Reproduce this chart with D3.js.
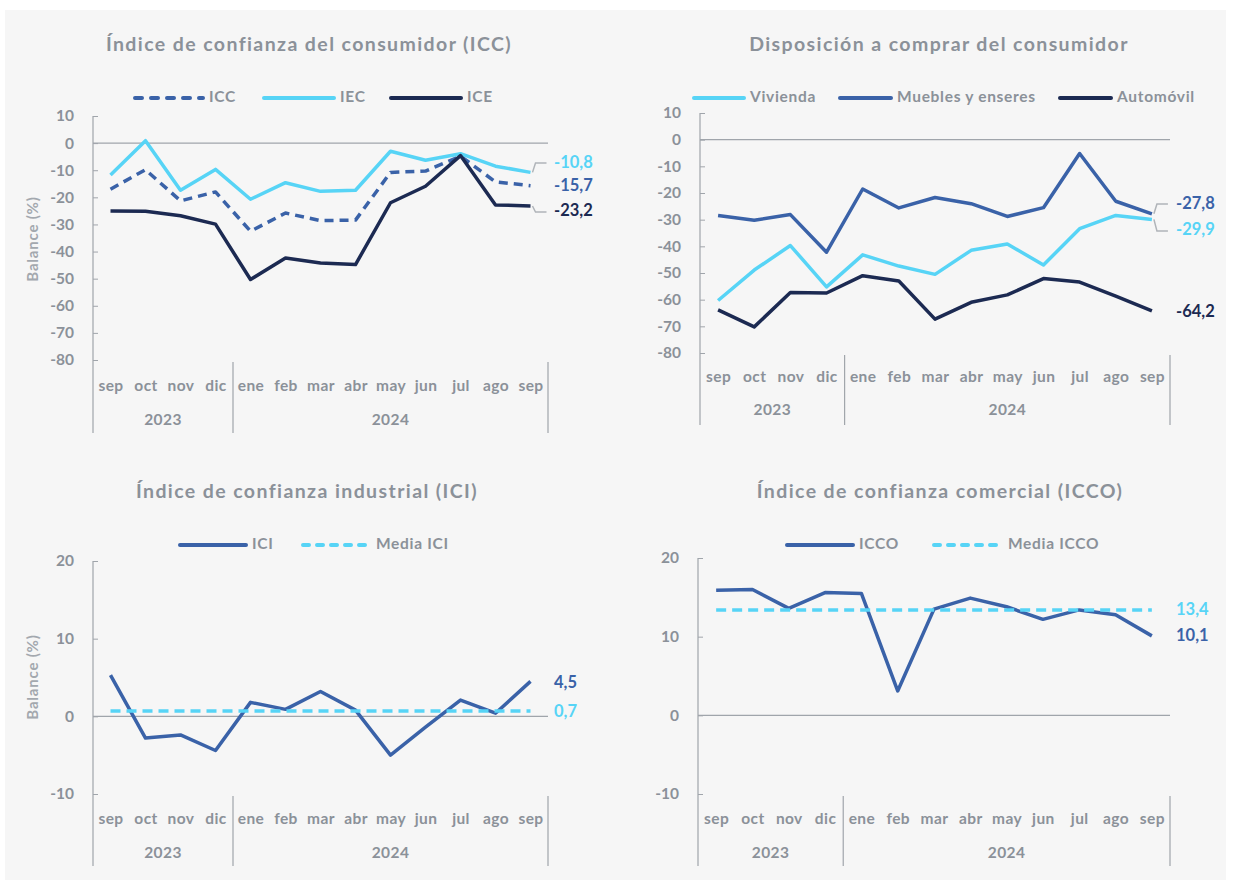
<!DOCTYPE html>
<html>
<head>
<meta charset="utf-8">
<script src="https://cdn.jsdelivr.net/npm/d3@7"></script>
<style>
  body { margin: 0; background: #ffffff; }
  text { font-family: Lato, "Open Sans", sans-serif; }
</style>
</head>
<body>
<div id="chart"></div>
<script>
// categories
var months = ["sep", "oct", "nov", "dic", "ene", "feb", "mar", "abr", "may", "jun", "jul", "ago", "sep"];
var years = ["2023", "2024"];
var yearStart = [0, 4]; // index where each year starts

// consumer confidence
var icc = [-17, -9.8, -21.3, -18, -32.5, -25.8, -28.6, -28.4, -10.8, -10.3, -4.8, -14.3, -15.7];
var iec = [-11.8, 0.9, -17.4, -9.7, -20.7, -14.6, -17.8, -17.4, -3, -6.3, -3.9, -8.5, -10.8];
var ice = [-25, -25.1, -26.8, -29.9, -50.3, -42.4, -44.2, -44.8, -22, -15.9, -4.6, -22.8, -23.2];

// disposición a comprar
var vivienda = [-60.3, -48.9, -39.7, -55.2, -43.2, -47.4, -50.5, -41.5, -39.1, -47, -33.4, -28.4, -29.9];
var muebles = [-28.4, -30.2, -28.1, -42.2, -18.5, -25.6, -21.7, -24, -28.8, -25.5, -5.2, -23.1, -27.8];
var automovil = [-63.8, -70.2, -57.3, -57.5, -51, -53, -67.3, -61, -58.2, -52.1, -53.4, -58.7, -64.2];

// industrial
var ici = [5.3, -2.8, -2.4, -4.4, 1.8, 0.9, 3.2, 0.8, -5, -1.4, 2.1, 0.4, 4.5];
var mediaIci = 0.7;

// comercial
var icco = [15.9, 16, 13.6, 15.6, 15.5, 3.1, 13.5, 14.9, 13.8, 12.2, 13.4, 12.8, 10.1];
var mediaIcco = 13.4;

// tick values
var ticksTop = [10, 0, -10, -20, -30, -40, -50, -60, -70, -80];
var ticksBottom = [20, 10, 0, -10];

// colours
var light = "#57d4f6";
var mid = "#3a62a8";
var navy = "#1c2a52";
var grey = "#8b9199";
var axisGrey = "#a0a5ab";

var svg = d3.select("#chart").append("svg")
  .attr("width", 1233)
  .attr("height", 882);

svg.append("rect")
  .attr("x", 5).attr("y", 10)
  .attr("width", 1221).attr("height", 870)
  .attr("fill", "#f6f6f6");

function fmt(v) {
  return String(v).replace(".", ",");
}

function drawPanel(p) {
  var g = svg.append("g");

  var x = d3.scalePoint()
    .domain(d3.range(months.length))
    .range([p.left, p.right])
    .padding(0.5);

  var y = d3.scaleLinear()
    .domain([p.min, p.max])
    .range([p.bottom, p.top]);

  // title
  g.append("text")
    .attr("x", p.titleX)
    .attr("y", p.titleY)
    .attr("text-anchor", "middle")
    .attr("dominant-baseline", "middle")
    .style("font-size", "19.5px")
    .style("font-weight", "bold")
    .style("letter-spacing", "1.4px")
    .attr("fill", grey)
    .text(p.title);

  // y axis
  var yAxis = d3.axisLeft(y)
    .tickValues(p.ticks)
    .tickSizeInner(-5)
    .tickSizeOuter(0)
    .tickPadding(19)
    .tickFormat(function(d) { return String(d); });

  var yAxisGroup = g.append("g")
    .attr("transform", "translate(" + p.left + ",0)")
    .call(yAxis);
  yAxisGroup.select(".domain").remove();
  yAxisGroup.selectAll("line").attr("stroke", axisGrey);
  yAxisGroup.selectAll("text")
    .attr("fill", grey)
    .style("font-size", "15.5px")
    .style("font-weight", "bold")
    .style("font-family", "Lato, sans-serif");

  // axis line down to bottom of category area
  g.append("line")
    .attr("x1", p.left).attr("x2", p.left)
    .attr("y1", y(p.max)).attr("y2", p.sepBottom)
    .attr("stroke", axisGrey).attr("stroke-width", 1.2);

  // zero line
  g.append("line")
    .attr("x1", p.left).attr("x2", p.right)
    .attr("y1", y(0)).attr("y2", y(0))
    .attr("stroke", axisGrey).attr("stroke-width", 1.2);

  // month labels
  var xAxis = d3.axisBottom(x)
    .tickSize(0)
    .tickPadding(0)
    .tickFormat(function(i) { return months[i]; });
  var xAxisGroup = g.append("g")
    .attr("transform", "translate(0," + p.monthY + ")")
    .call(xAxis);
  xAxisGroup.select(".domain").remove();
  xAxisGroup.selectAll("text")
    .attr("dy", "0.35em")
    .attr("fill", grey)
    .style("font-size", "15.5px")
    .style("font-weight", "bold")
    .style("letter-spacing", "0.4px")
    .style("font-family", "Lato, sans-serif");

  // year separators and labels
  var step = x.step();
  var bounds = yearStart.map(function(s) { return x(s) - step / 2; }).concat([p.right]);
  bounds.slice(1).forEach(function(bx) {
    g.append("line")
      .attr("x1", bx).attr("x2", bx)
      .attr("y1", p.sepTop).attr("y2", p.sepBottom)
      .attr("stroke", axisGrey).attr("stroke-width", 1.2);
  });
  years.forEach(function(yr, i) {
    g.append("text")
      .attr("x", (bounds[i] + bounds[i + 1]) / 2)
      .attr("y", p.yearY)
      .attr("text-anchor", "middle")
      .attr("dominant-baseline", "middle")
      .attr("fill", grey)
      .style("font-size", "15.5px")
      .style("font-weight", "bold")
      .style("letter-spacing", "0.4px")
      .text(yr);
  });

  // y title
  if (p.yTitle) {
    g.append("text")
      .attr("transform", "translate(34," + p.yTitleY + ") rotate(-90)")
      .attr("text-anchor", "middle")
      .attr("dominant-baseline", "middle")
      .attr("fill", "#a3a8ae")
      .style("font-size", "15px")
      .style("font-weight", "bold")
      .style("letter-spacing", "0.8px")
      .text("Balance (%)");
  }

  var line = d3.line()
    .x(function(d, i) { return x(i); })
    .y(function(d) { return y(d); });

  // series
  p.series.forEach(function(s) {
    var vals = s.constant !== undefined ? months.map(function() { return s.constant; }) : s.values;
    g.append("path")
      .datum(vals)
      .attr("fill", "none")
      .attr("stroke", s.color)
      .attr("stroke-width", 3.5)
      .attr("stroke-linejoin", "round")
      .attr("stroke-dasharray", s.dash || null)
      .attr("d", line);
  });

  // legend
  p.series.forEach(function(s) {
    g.append("line")
      .attr("x1", s.lx1).attr("x2", s.lx2)
      .attr("y1", p.legendY).attr("y2", p.legendY)
      .attr("stroke", s.color)
      .attr("stroke-width", 4)
      .attr("stroke-linecap", "round")
      .attr("stroke-dasharray", s.dash ? s.legendDash : null);
    g.append("text")
      .attr("x", s.lx2 + 6)
      .attr("y", p.legendY)
      .attr("dominant-baseline", "middle")
      .attr("fill", grey)
      .style("font-size", "15.5px")
      .style("font-weight", "bold")
      .style("letter-spacing", "0.7px")
      .text(s.name);
  });

  // end labels
  var last = months.length - 1;
  p.series.forEach(function(s) {
    var v = s.constant !== undefined ? s.constant : s.values[last];
    var ly = s.labelY !== undefined ? s.labelY : y(v);
    g.append("text")
      .attr("x", p.right + 6)
      .attr("y", ly)
      .attr("dominant-baseline", "middle")
      .attr("fill", s.labelColor || s.color)
      .style("font-size", "16.5px")
      .style("font-weight", "bold")
      .text(fmt(v));
    if (s.leader) {
      var x0 = x(last) + 2, y0 = y(v);
      var yl = s.labelY + (s.labelY < y0 ? -1 : 0);
      g.append("path")
        .attr("d", "M" + x0 + "," + y0 + "L" + (x0 + 3) + "," + yl + "L" + (x0 + 14) + "," + yl)
        .attr("fill", "none")
        .attr("stroke", "#b0b4b9")
        .attr("stroke-width", 1.5);
    }
  });
}

drawPanel({
  title: "Índice de confianza del consumidor (ICC)",
  titleX: 309, titleY: 46,
  left: 93, right: 548, top: 116, bottom: 360,
  min: -80, max: 10, ticks: ticksTop,
  monthY: 386, yearY: 421, sepTop: 362, sepBottom: 433,
  legendY: 98, yTitle: true, yTitleY: 239,
  series: [
    { name: "ICC", values: icc, color: mid, dash: "9,6", legendDash: "7,9", lx1: 135, lx2: 203, labelY: 187 },
    { name: "IEC", values: iec, color: light, lx1: 264, lx2: 334, labelY: 164, leader: true },
    { name: "ICE", values: ice, color: navy, lx1: 391, lx2: 461, labelY: 212, leader: true }
  ]
});

drawPanel({
  title: "Disposición a comprar del consumidor",
  titleX: 939, titleY: 46,
  left: 700, right: 1170, top: 113, bottom: 353,
  min: -80, max: 10, ticks: ticksTop,
  monthY: 377, yearY: 411, sepTop: 355, sepBottom: 425,
  legendY: 98, yTitle: false,
  series: [
    { name: "Vivienda", values: vivienda, color: light, lx1: 694, lx2: 744, labelY: 231, leader: true },
    { name: "Muebles y enseres", values: muebles, color: mid, lx1: 840, lx2: 891, labelY: 205, leader: true },
    { name: "Automóvil", values: automovil, color: navy, lx1: 1060, lx2: 1111, labelY: 313 }
  ]
});

drawPanel({
  title: "Índice de confianza industrial (ICI)",
  titleX: 307, titleY: 493,
  left: 93, right: 548, top: 561, bottom: 794,
  min: -10, max: 20, ticks: ticksBottom,
  monthY: 819, yearY: 854, sepTop: 796, sepBottom: 866,
  legendY: 545, yTitle: true, yTitleY: 677,
  series: [
    { name: "ICI", values: ici, color: mid, lx1: 180, lx2: 246, labelY: 684 },
    { name: "Media ICI", constant: mediaIci, color: light, dash: "10,6", legendDash: "6,8", lx1: 303, lx2: 370, labelY: 713 }
  ]
});

drawPanel({
  title: "Índice de confianza comercial (ICCO)",
  titleX: 940, titleY: 493,
  left: 698, right: 1170, top: 558, bottom: 794,
  min: -10, max: 20, ticks: ticksBottom,
  monthY: 819, yearY: 854, sepTop: 796, sepBottom: 866,
  legendY: 545, yTitle: false,
  series: [
    { name: "ICCO", values: icco, color: mid, lx1: 787, lx2: 853, labelY: 637 },
    { name: "Media ICCO", constant: mediaIcco, color: light, dash: "10,6", legendDash: "6,8", lx1: 934, lx2: 1002, labelY: 611 }
  ]
});
</script>
</body>
</html>
